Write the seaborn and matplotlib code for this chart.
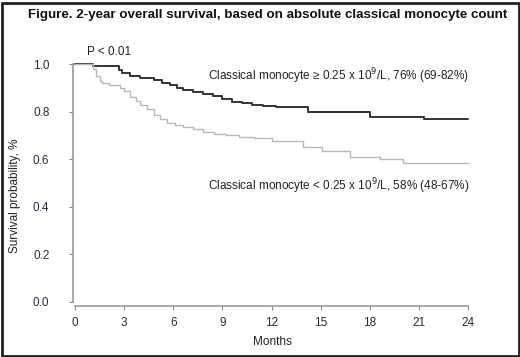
import pandas as pd
import matplotlib.pyplot as plt
import seaborn as sns

# Kaplan-Meier step points
months_high = [0, 1.1, 2.7, 2.9, 3.35, 4.0, 4.8, 5.3, 5.8, 6.2, 6.6, 7.2, 7.8, 8.4,
               9.0, 9.6, 10.2, 10.8, 11.5, 12.3, 14.2, 18.0, 21.3, 24]
surv_high = [1.0, 0.99, 0.975, 0.962, 0.95, 0.942, 0.933, 0.922, 0.912, 0.90, 0.89,
             0.882, 0.874, 0.866, 0.855, 0.842, 0.835, 0.828, 0.824, 0.82, 0.797,
             0.779, 0.769, 0.769]

months_low = [0, 1.1, 1.3, 1.5, 1.65, 2.1, 2.75, 3.0, 3.35, 3.7, 4.0, 4.4, 4.8, 5.2,
              5.6, 6.1, 6.6, 7.2, 7.8, 8.5, 9.2, 10.0, 10.9, 12.0, 13.9, 15.1, 16.8,
              18.6, 20.0, 24]
surv_low = [1.0, 0.98, 0.95, 0.93, 0.92, 0.91, 0.9, 0.885, 0.863, 0.845, 0.828, 0.81,
            0.786, 0.768, 0.752, 0.745, 0.737, 0.728, 0.716, 0.708, 0.70, 0.695, 0.69,
            0.678, 0.653, 0.634, 0.61, 0.599, 0.585, 0.585]

label_high = "Classical monocyte \u2265 0.25 x 10$^{9}$/L, 76% (69-82%)"
label_low = "Classical monocyte < 0.25 x 10$^{9}$/L, 58% (48-67%)"
x_ticks = [0, 3, 6, 9, 12, 15, 18, 21, 24]
y_ticks = [0.0, 0.2, 0.4, 0.6, 0.8, 1.0]

sns.set_style("ticks")
plt.rcParams['font.family'] = ['Liberation Sans', 'DejaVu Sans']

df = pd.concat([
    pd.DataFrame({"month": months_high, "surv": surv_high, "group": "high"}),
    pd.DataFrame({"month": months_low, "surv": surv_low, "group": "low"}),
])

W, H = 520, 357
fig = plt.figure(figsize=(W / 100, H / 100), dpi=100)
ax = fig.add_axes([73 / W, 1 - 306 / H, (472 - 73) / W, (306 - 60) / H])

sns.lineplot(data=df, x="month", y="surv", hue="group", estimator=None,
             palette={"high": "#333333", "low": "#b8b8b8"},
             drawstyle="steps-post", legend=False, ax=ax)
ax.lines[0].set_linewidth(1.4)
ax.lines[1].set_linewidth(1.0)

ax.set_xlim(-0.12, 24.24)
ax.set_ylim(-0.017, 1.017)
ax.set_xticks(x_ticks)
ax.set_yticks(y_ticks)
ax.set_yticklabels([f"{v:.1f}" for v in y_ticks])
ax.tick_params(axis="both", colors="#888888", labelcolor="#2b2840",
               labelsize=8.5, length=3, width=0.8)
ax.tick_params(axis="y", pad=14)
ax.tick_params(axis="x", pad=5)
for s in ["top", "right"]:
    ax.spines[s].set_visible(False)
for s in ["left", "bottom"]:
    ax.spines[s].set_color("#999999")
    ax.spines[s].set_linewidth(1.2)
ax.spines["left"].set_bounds(0, 1)
ax.spines["bottom"].set_bounds(0, 24)

ax.set_xlabel("Months", fontsize=8.5, color="#222222")
ax.set_ylabel("Survival probability, %", fontsize=8.5, color="#222222")
ax.xaxis.set_label_coords(0.5, -0.12)
ax.yaxis.set_label_coords(-0.13, 0.45)

ax.text(0.73, 1.05, "P < 0.01", fontsize=8.5, color="#222222", va="center")
ax.text(8.1, 0.947, label_high, fontsize=8.5, color="#222222", va="center")
ax.text(8.1, 0.485, label_low, fontsize=8.5, color="#222222", va="center")

fig.text(28 / W, 1 - 15 / H, "Figure. 2-year overall survival, based on absolute classical monocyte count",
         fontsize=9.6, fontweight="bold", color="#111111", va="center")

fig.patches.append(plt.Rectangle((1.5 / W, 1.5 / H), (W - 3) / W, (H - 4.5) / H,
                                 transform=fig.transFigure, fill=False,
                                 edgecolor="#222222", linewidth=2))

fig.savefig("out.png", dpi=100)
